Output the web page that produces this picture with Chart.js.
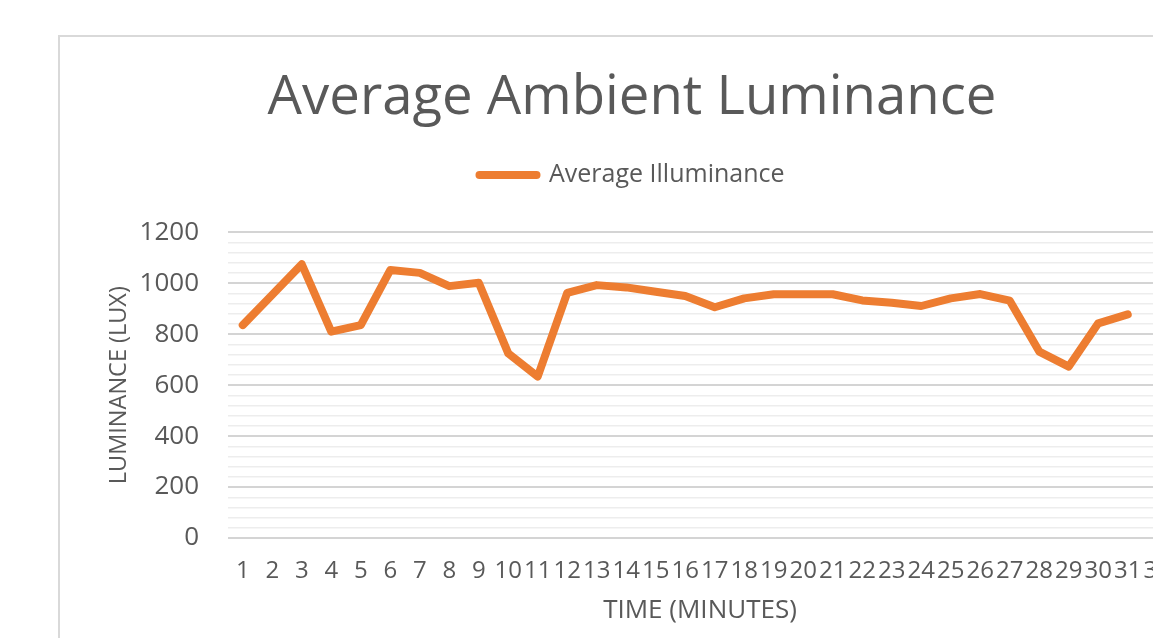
<!DOCTYPE html>
<html>
<head>
<meta charset="utf-8">
<script src="https://cdn.jsdelivr.net/npm/chart.js@4.4.1/dist/chart.umd.min.js"></script>
<style>
  html, body { margin: 0; padding: 0; background: #fff; overflow: hidden; width: 1153px; height: 638px; }
  #frame { position: absolute; left: 58px; top: 35px; border: 2px solid #d9d9d9; background: #fff; }
  canvas { display: block; }
</style>
</head>
<body>
<div id="frame"><canvas id="lux" width="1148" height="601"></canvas></div>
<script>
// minutes on the x axis (32nd label is cut off by the picture edge)
var minutes = [];
for (var m = 1; m <= 32; m++) minutes.push(String(m));

// average illuminance per minute (lux)
var avgIlluminance = [836, 955, 1075, 810, 836, 1052, 1041, 989, 1002, 725,
                      634, 963, 993, 984, 967, 950, 906, 941, 957, 957,
                      957, 933, 924, 911, 941, 958, 932, 732, 673, 843, 878];

var yMin = 0;
var yMax = 1200;
var yMajor = 200;
var yMinor = 40;

var textGrey = '#595959';
var orange = '#ED7D31';
var fontName = '"Open Sans", sans-serif';

var ctx = document.getElementById('lux').getContext('2d');
var luxChart = new Chart(ctx, {
  type: 'line',
  data: {
    labels: minutes,
    datasets: [{
      label: 'Average Illuminance',
      data: avgIlluminance,
      borderColor: orange,
      backgroundColor: orange,
      borderWidth: 8,
      borderCapStyle: 'round',
      borderJoinStyle: 'round',
      pointRadius: 0,
      tension: 0,
      fill: false
    }]
  },
  options: {
    responsive: false,
    animation: false,
    layout: { padding: { left: 0, right: 4, top: 0, bottom: 0 } },
    plugins: {
      title: {
        display: true,
        text: 'Average Ambient Luminance',
        color: textGrey,
        font: { family: fontName, size: 54.5, weight: 'normal' },
        padding: { top: 29, bottom: 21 }
      },
      legend: {
        display: true,
        position: 'top',
        labels: {
          color: textGrey,
          font: { family: fontName, size: 25 },
          usePointStyle: true,
          pointStyle: 'line',
          pointStyleWidth: 57,
          padding: 10,
          generateLabels: function(chart) {
            var items = Chart.defaults.plugins.legend.labels.generateLabels(chart);
            items.forEach(function(it) { it.lineCap = 'round'; it.lineWidth = 8; });
            return items;
          }
        }
      },
      // empty spacer between the legend and the plot
      subtitle: {
        display: true,
        text: '',
        weight: 500,
        font: { size: 10 },
        padding: { top: 23, bottom: 0 }
      },
      tooltip: { enabled: false }
    },
    scales: {
      x: {
        offset: true,
        grid: { display: false, drawTicks: false },
        border: { display: false },
        ticks: {
          color: textGrey,
          font: { family: fontName, size: 24 },
          autoSkip: false,
          maxRotation: 0,
          padding: 19
        },
        title: {
          display: true,
          text: 'TIME (MINUTES)',
          color: textGrey,
          font: { family: fontName, size: 26 },
          padding: { top: 0, bottom: 12 }
        },
        afterFit: function(scale) { scale.height = 100; }
      },
      y: {
        min: yMin,
        max: yMax,
        grid: {
          drawTicks: false,
          color: function(c) { return c.tick && c.tick.value % yMajor === 0 ? '#d4d4d4' : '#ededed'; },
          lineWidth: function(c) { return c.tick && c.tick.value % yMajor === 0 ? 2 : 1.5; }
        },
        border: { display: false },
        ticks: {
          stepSize: yMinor,
          autoSkip: false,
          color: textGrey,
          font: { family: fontName, size: 26 },
          padding: 29,
          callback: function(v) { return v % yMajor === 0 ? v : ''; }
        },
        title: {
          display: true,
          text: 'LUMINANCE (LUX)',
          color: textGrey,
          font: { family: fontName, size: 23.5 },
          padding: { top: 45, bottom: 0 }
        },
        afterFit: function(scale) { scale.width = 168; }
      },
      // keeps a little room right of the plot, like the original
      yRight: {
        position: 'right',
        display: true,
        grid: { display: false, drawTicks: false },
        border: { display: false },
        ticks: { display: false },
        afterFit: function(scale) { scale.width = 32; }
      }
    }
  }
});
</script>
</body>
</html>
